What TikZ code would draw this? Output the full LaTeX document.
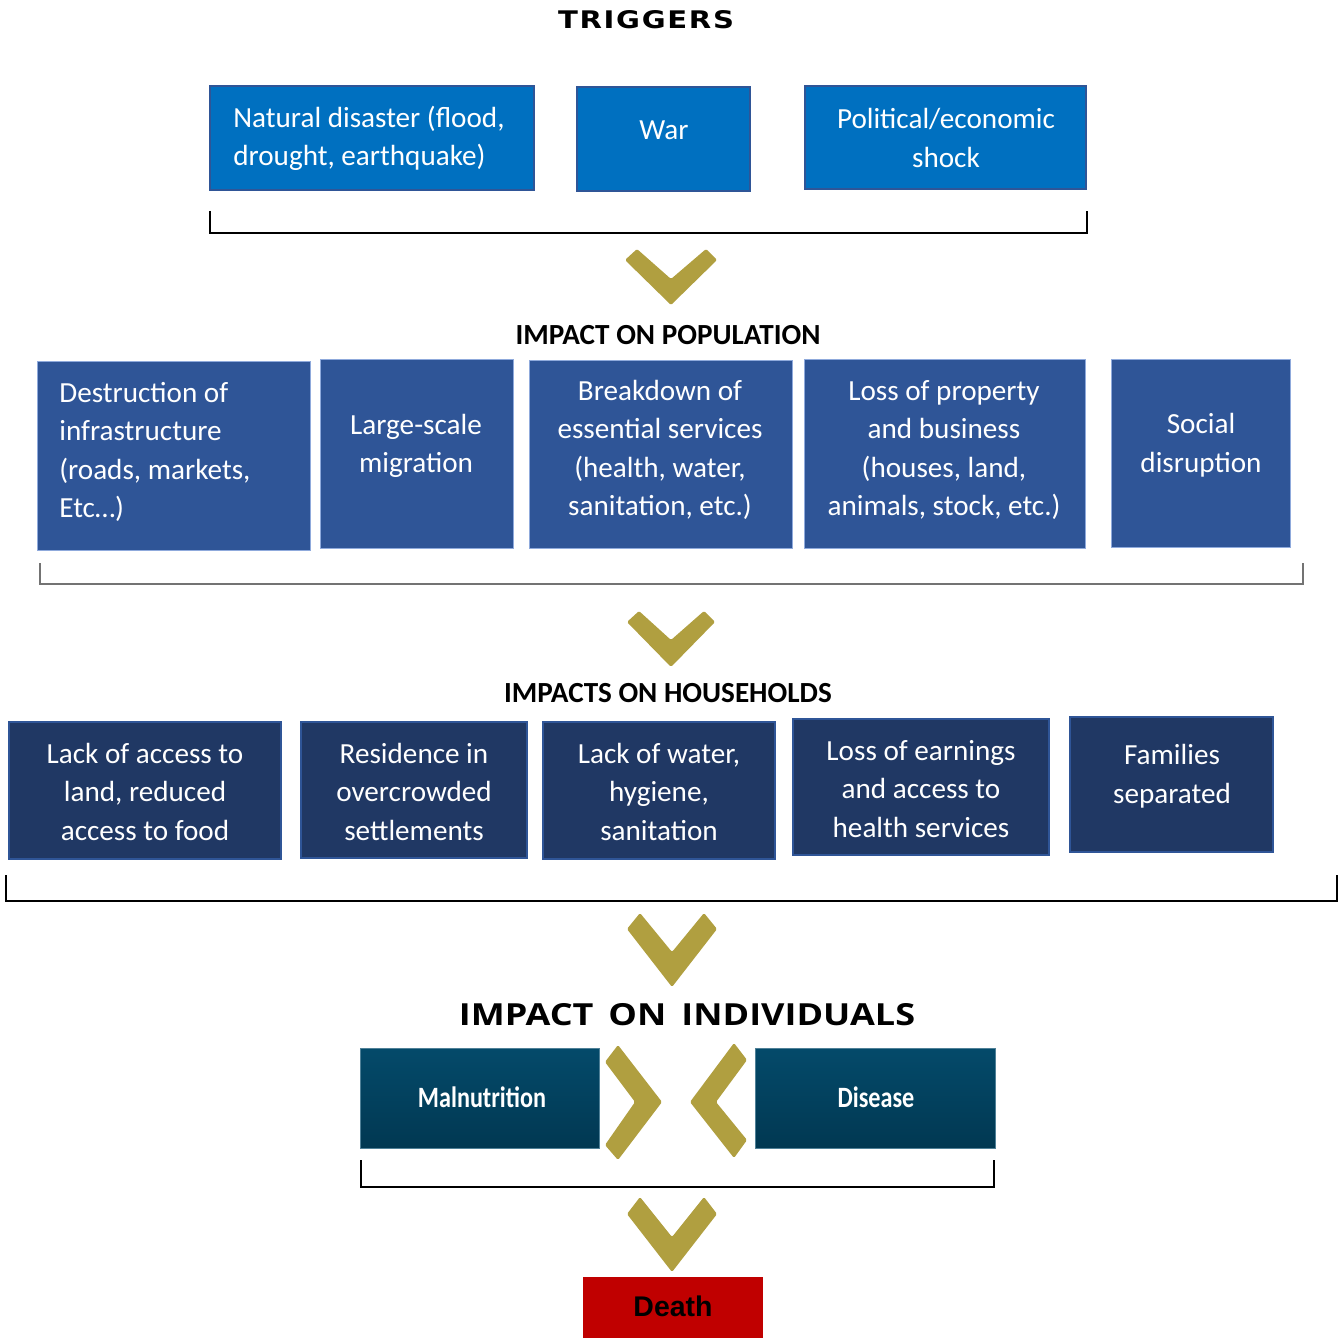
\documentclass[tikz,border=0pt]{standalone}
\usepackage{fontspec}
\setmainfont{Carlito}
\newfontfamily\headfont[FakeStretch=1.2,LetterSpace=7]{DejaVu Sans}
\newfontfamily\indivfont[FakeStretch=1.185,WordSpace=1.6]{Open Sans}
\newfontfamily\condfont[FakeStretch=0.82]{Carlito}
\newfontfamily\arialfont{Liberation Sans}
\usepackage{tikz}
\definecolor{triggerblue}{RGB}{0,112,192}
\definecolor{triggeredge}{RGB}{47,85,151}
\definecolor{popblue}{RGB}{47,85,151}
\definecolor{popedge}{RGB}{143,170,220}
\definecolor{houseblue}{RGB}{32,56,100}
\definecolor{houseedge}{RGB}{47,85,151}
\definecolor{indivtop}{RGB}{4,74,106}
\definecolor{indivbot}{RGB}{1,56,82}
\definecolor{chevgold}{RGB}{176,159,64}
\definecolor{deathred}{RGB}{192,0,0}

\begin{document}
\begin{tikzpicture}[
        x=0.02cm, y=-0.02cm,
        % box size given in layout pixels
        boxsize/.style 2 args={
            minimum width=#1*0.02cm,
            minimum height=#2*0.02cm
        },
        % Base style for all coloured boxes
        base_box/.style={
            draw,
            inner sep=0pt,
            outer sep=0pt,
            anchor=center
        },
        trigger_box/.style={base_box, fill=triggerblue, draw=triggeredge, line width=1.2pt},
        pop_box/.style={base_box, fill=popblue, draw=popedge, line width=0.5pt},
        house_box/.style={base_box, fill=houseblue, draw=houseedge, line width=1.2pt},
        indiv_box/.style={base_box, top color=indivtop, bottom color=indivbot, draw=indivtop!70!white, line width=0.4pt},
        death_box/.style={base_box, fill=deathred, draw=none},
        % Text inside the boxes
        box_text/.style={
            text=white,
            inner sep=0pt,
            align=center,
            font=\fontsize{16.6}{21.9}\selectfont
        },
        title_text/.style={inner sep=0pt, font=\fontsize{16.6}{20}\selectfont\bfseries},
        chevron/.style={fill=chevgold, rounded corners=0.8pt},
        bracket/.style={draw=black, line width=0.8pt}
    ]

    \useasboundingbox (0,0) rectangle (1339,1338);

    % 1. Triggers
    \node[font=\headfont\fontsize{13.8}{15}\selectfont\bfseries, inner sep=0pt] (trig_title) at (646,20) {TRIGGERS};

    \node[trigger_box, boxsize={324}{104}] (trig1) at (372,138) {};
    \node[trigger_box, boxsize={173}{104}] (trig2) at (663.5,139) {};
    \node[trigger_box, boxsize={281}{103}] (trig3) at (945.5,137.5) {};

    \node[box_text, anchor=west, align=left] (trig1_text) at (233,138.5) {Natural disaster (flood,\\drought, earthquake)};
    \node[box_text] (trig2_text) at (664,130) {War};
    \node[box_text] (trig3_text) at (946,138) {Political/economic\\shock};

    \coordinate (b1l) at (210,211);
    \coordinate (b1r) at (1087,211);
    \draw[bracket] (b1l) -- ++(0,22) -| (b1r);

    \fill[chevron] (625,260) -- (637,249) -- (671,279) -- (706,249) -- (717,260) -- (671,305) -- cycle;

    % 2. Impact on population
    \node[title_text] (pop_title) at (668,335) {IMPACT ON POPULATION};

    \node[pop_box, boxsize={273}{189}] (pop1) at (173.5,455.5) {};
    \node[pop_box, boxsize={193}{189}] (pop2) at (416.5,453.5) {};
    \node[pop_box, boxsize={263}{188}] (pop3) at (660.5,454) {};
    \node[pop_box, boxsize={281}{189}] (pop4) at (944.5,453.5) {};
    \node[pop_box, boxsize={179}{188}] (pop5) at (1200.5,453) {};

    \node[box_text, anchor=west, align=left] (pop1_text) at (59,452) {Destruction of\\infrastructure\\(roads, markets,\\Etc\dots)};
    \node[box_text] (pop2_text) at (416,446) {Large-scale\\migration};
    \node[box_text] (pop3_text) at (660,450) {Breakdown of\\essential services\\(health, water,\\sanitation, etc.)};
    \node[box_text] (pop4_text) at (944,450) {Loss of property\\and business\\(houses, land,\\animals, stock, etc.)};
    \node[box_text] (pop5_text) at (1201,445) {Social\\disruption};

    \coordinate (b2l) at (40,563);
    \coordinate (b2r) at (1303,563);
    \draw[bracket, draw=black!55] (b2l) -- ++(0,21) -| (b2r);

    \fill[chevron] (627,622) -- (639,611) -- (671,640) -- (704,611) -- (715,622) -- (671,667) -- cycle;

    % 3. Impacts on households
    \node[title_text] (house_title) at (668,693) {IMPACTS ON HOUSEHOLDS};

    \node[house_box, boxsize={272}{137}] (house1) at (145,790.5) {};
    \node[house_box, boxsize={226}{136}] (house2) at (414,790) {};
    \node[house_box, boxsize={232}{137}] (house3) at (659,790.5) {};
    \node[house_box, boxsize={256}{136}] (house4) at (921,787) {};
    \node[house_box, boxsize={203}{135}] (house5) at (1171.5,784.5) {};

    \node[box_text] (house1_text) at (145,791.5) {Lack of access to\\land, reduced\\access to food};
    \node[box_text] (house2_text) at (414,791.5) {Residence in\\overcrowded\\settlements};
    \node[box_text] (house3_text) at (659,791.5) {Lack of water,\\hygiene,\\sanitation};
    \node[box_text] (house4_text) at (921,789) {Loss of earnings\\and access to\\health services};
    \node[box_text] (house5_text) at (1172,776) {Families\\separated};

    \coordinate (b3l) at (6,875);
    \coordinate (b3r) at (1337,875);
    \draw[bracket, line width=1.1pt] (b3l) -- ++(0,26) -| (b3r);

    \fill[chevron] (627,929) -- (640,913) -- (672,952) -- (704,913) -- (717,929) -- (672,987) -- cycle;

    % 4. Impact on individuals
    \node[font=\indivfont\fontsize{17.3}{20}\selectfont\bfseries, inner sep=0pt] (indiv_title) at (687,1015) {IMPACT ON INDIVIDUALS};

    \node[indiv_box, boxsize={239}{100}] (malnut) at (479.5,1098) {};
    \node[indiv_box, boxsize={240}{100}] (disease) at (875,1098) {};
    \node[box_text, font=\condfont\fontsize{16.8}{20}\selectfont\bfseries] (malnut_text) at (482,1097) {Malnutrition};
    \node[box_text, font=\condfont\fontsize{16.8}{20}\selectfont\bfseries] (disease_text) at (876,1097) {Disease};

    \fill[chevron] (618,1045) -- (605,1062) -- (635,1102) -- (605,1145) -- (618,1160) -- (662,1102) -- cycle;
    \fill[chevron] (734,1043) -- (747,1060) -- (716,1102) -- (747,1140) -- (734,1158) -- (690,1102) -- cycle;

    \coordinate (b4l) at (361,1160);
    \coordinate (b4r) at (994,1160);
    \draw[bracket] (b4l) -- ++(0,27) -| (b4r);

    \fill[chevron] (627,1214) -- (640,1197) -- (672,1237) -- (704,1197) -- (717,1214) -- (672,1272) -- cycle;

    % 5. Death
    \node[death_box, boxsize={180}{70}] (death) at (673,1312) {};
    \node[inner sep=0pt, font=\arialfont\fontsize{16.2}{18}\selectfont\bfseries] (death_text) at (673,1306) {Death};

\end{tikzpicture}
\end{document}
